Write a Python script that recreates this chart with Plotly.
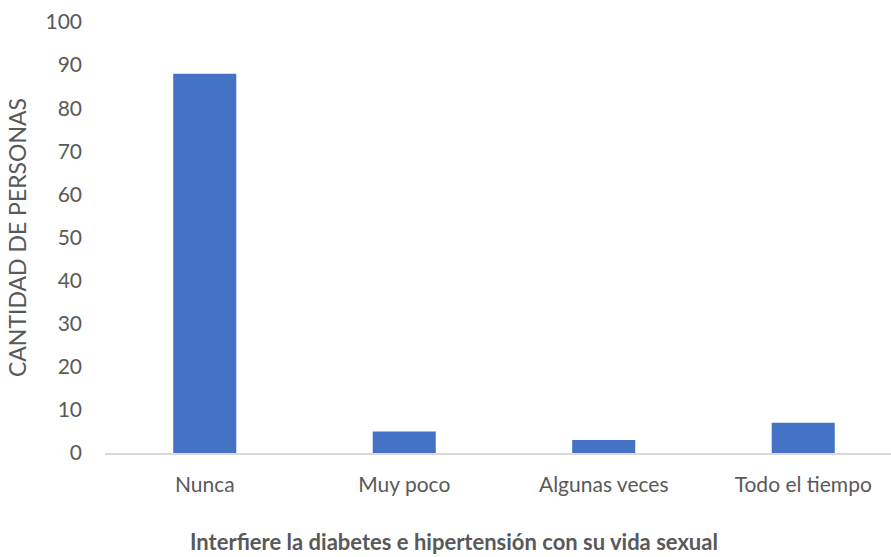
import plotly.graph_objects as go

categorias = ["Nunca", "Muy poco", "Algunas veces", "Todo el tiempo"]
personas = [88, 5, 3, 7]
y_ticks = list(range(0, 101, 10))

texto = "#595959"
fuente = "Lato"

fig = go.Figure(go.Bar(
    x=list(range(len(categorias))),
    y=personas,
    marker=dict(color="#4472C4", line=dict(width=0)),
    hoverinfo="x+y",
))

fig.update_layout(
    width=891,
    height=557,
    autosize=False,
    margin=dict(l=105, r=0, t=22, b=104, autoexpand=False),
    paper_bgcolor="white",
    plot_bgcolor="white",
    bargap=0.684,
    showlegend=False,
    font=dict(family=fuente, size=21, color=texto),
)

fig.update_xaxes(
    range=[-0.5, 3.44],
    tickmode="array",
    tickvals=list(range(len(categorias))),
    ticktext=categorias,
    showgrid=False,
    zeroline=False,
    showline=True,
    linecolor="#d9d9d9",
    linewidth=2,
    ticks="",
    ticklabelstandoff=12,
    tickfont=dict(size=21, color=texto),
)

fig.update_yaxes(
    range=[0, 100],
    tickvals=y_ticks,
    showgrid=False,
    zeroline=False,
    showline=False,
    ticks="",
    ticklabelstandoff=22,
    tickfont=dict(size=21, color=texto),
    title=dict(text="CANTIDAD DE PERSONAS", font=dict(size=23, color=texto), standoff=12),
)

fig.add_annotation(
    text="<b>Interfiere la diabetes e hipertensión con su vida sexual</b>",
    xref="paper", yref="paper",
    x=(454 - 105) / 786, y=-(541 - 453) / 431,
    xanchor="center", yanchor="middle",
    showarrow=False,
    font=dict(size=22, color=texto, family=fuente),
)

fig.write_html("out.html", config={"displayModeBar": False},
               post_script="document.body.style.margin='0';")
